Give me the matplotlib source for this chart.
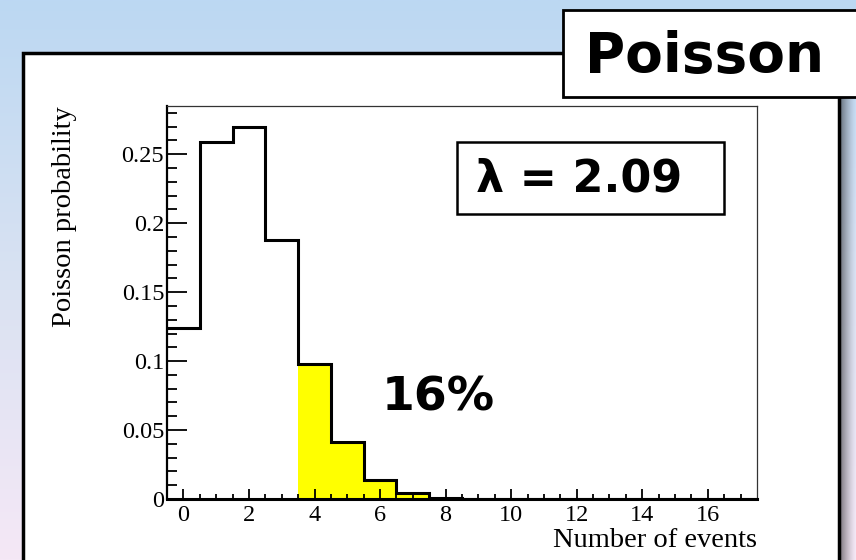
import numpy as np
import matplotlib.pyplot as plt
from matplotlib.patches import Rectangle
from matplotlib.colors import LinearSegmentedColormap

# Poisson probabilities for lambda = 2.09, one bin per event count
counts = np.arange(0, 18)
prob = [0.124, 0.259, 0.270, 0.188, 0.098, 0.041, 0.014, 0.004, 0.001,
        0.0003, 0.00005, 0, 0, 0, 0, 0, 0, 0]
tail_start = 4
tail_stop = 8
lam_text = "λ = 2.09"
tail_text = "16%"
title_text = "Poisson"

W, H = 856, 560
fig = plt.figure(figsize=(W / 100, H / 100), dpi=100)


def fx(x):
    return x / W


def fy(y):
    return 1 - y / H


# slide background: blue at the top fading to lavender
bg = fig.add_axes([0, 0, 1, 1], zorder=-10)
bg.axis('off')
grad = LinearSegmentedColormap.from_list('bg', ['#bcd8f3', '#d9e2f2', '#f5e8f6'])
bg.imshow(np.linspace(0, 1, 256).reshape(-1, 1), aspect='auto', cmap=grad,
          extent=[0, 1, 0, 1], origin='upper', zorder=0)

# drop shadow right of the white panel
shade = np.zeros((1, 64, 4))
shade[..., 3] = np.linspace(0.6, 0.0, 64) ** 1.4
bg.imshow(shade, aspect='auto', extent=[fx(840), fx(856), 0, fy(97)], zorder=1)

# white panel holding the plot
bg.add_patch(Rectangle((fx(23), fy(575)), fx(839) - fx(23), fy(53) - fy(575),
                       facecolor='white', edgecolor='black', linewidth=2.5, zorder=2))

# title box in the top right corner
bg.add_patch(Rectangle((fx(563), fy(97)), fx(880) - fx(563), fy(10) - fy(97),
                       facecolor='white', edgecolor='black', linewidth=2, zorder=3))
bg.text(fx(585), fy(57), title_text, fontsize=39.5, fontweight='bold',
        family='DejaVu Sans', va='center', ha='left', zorder=4)
bg.set_xlim(0, 1)
bg.set_ylim(0, 1)

# histogram
ax = fig.add_axes([fx(167), fy(499), fx(757) - fx(167), fy(106) - fy(499)])
edges = np.append(counts - 0.5, counts[-1] + 0.5)
ax.stairs(prob[tail_start:tail_stop], edges[tail_start:tail_stop + 1], fill=True,
          color='#ffff00', zorder=1)
ax.stairs(prob, edges, color='black', linewidth=2.2, zorder=2, baseline=None)
ax.set_xlim(-0.5, 17.5)
ax.set_ylim(0, 0.285)

ax.set_xticks(np.arange(0, 17, 2))
ax.set_xticks(np.arange(-0.5, 17.5, 0.5), minor=True)
ax.set_yticks([0, 0.05, 0.1, 0.15, 0.2, 0.25])
ax.set_yticklabels(['0', '0.05', '0.1', '0.15', '0.2', '0.25'])
ax.set_yticks(np.arange(0, 0.285, 0.01), minor=True)
ax.tick_params(axis='x', which='major', direction='in', length=7.5, width=1.3, pad=4)
ax.tick_params(axis='x', which='minor', direction='in', length=3.6, width=1.3)
ax.tick_params(axis='y', which='major', direction='in', length=14.5, width=1.3, pad=2)
ax.tick_params(axis='y', which='minor', direction='in', length=7.2, width=1.3)
for lab in ax.get_xticklabels() + ax.get_yticklabels():
    lab.set_family('Liberation Serif')
    lab.set_fontsize(17.5)

ax.spines['left'].set_linewidth(1.6)
ax.spines['bottom'].set_linewidth(2.2)
ax.spines['top'].set_linewidth(0.9)
ax.spines['right'].set_linewidth(0.9)
ax.spines['top'].set_color('#333333')
ax.spines['right'].set_color('#333333')

ax.set_xlabel('Number of events', family='Liberation Serif', fontsize=20.5,
              loc='right', labelpad=2)
ax.set_ylabel('Poisson probability', family='Liberation Serif', fontsize=20.5,
              loc='top')
ax.yaxis.set_label_coords(-0.153, 1.0)

# lambda box and tail fraction
ax.add_patch(Rectangle((fx(457), fy(214)), fx(724) - fx(457), fy(142) - fy(214),
                       transform=fig.transFigure, facecolor='none',
                       edgecolor='black', linewidth=1.8, zorder=5, clip_on=False))
ax.text(fx(476), fy(179), lam_text, transform=fig.transFigure, fontsize=32,
        fontweight='bold', family='DejaVu Sans', va='center', ha='left')
ax.text(6.05, 0.0735, tail_text, fontsize=34, fontweight='bold',
        family='DejaVu Sans', va='center', ha='left')

fig.savefig('out.png', dpi=100)
